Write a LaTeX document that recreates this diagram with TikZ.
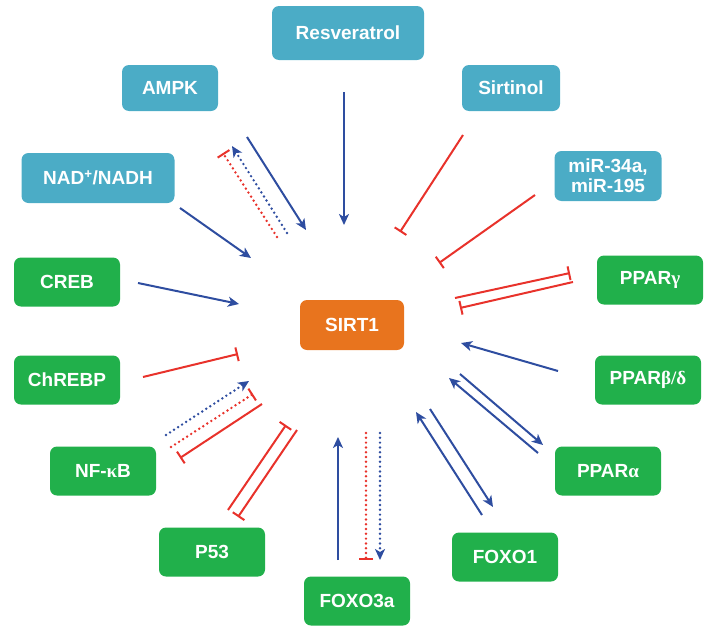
\documentclass[tikz,border=0pt]{standalone}
\usepackage{fontspec}
\setmainfont{Liberation Sans}
\newfontfamily\grk{Liberation Serif}
\usetikzlibrary{arrows.meta}

\definecolor{tealbox}{HTML}{4BACC6}
\definecolor{greenbox}{HTML}{21B04B}
\definecolor{orangebox}{HTML}{E8741E}
\definecolor{actblue}{HTML}{2E4DA0}
\definecolor{inhred}{HTML}{E8322B}

\tikzset{
  box/.style={rounded corners=7pt, minimum width=106pt, minimum height=49pt,
    text=white, font=\fontsize{19}{21}\selectfont\bfseries, align=center, inner sep=2pt},
  upbox/.style={box, fill=tealbox},
  dnbox/.style={box, fill=greenbox},
  act/.style={actblue, line width=2pt, -{Stealth[length=11pt,width=10pt,inset=3pt]}},
  inh/.style={inhred, line width=2pt, -{Bar[width=14pt,line width=2pt]}},
  dots/.style={line width=2.7pt, line cap=round, dash pattern=on 0pt off 4.8pt},
  dotact/.style={act, dots},
  dotinh/.style={inh, dots}
}

\begin{document}
\begin{tikzpicture}[x=1pt,y=-1pt]
	\useasboundingbox (0,0) rectangle (718,640);
	% regulators
	\node[upbox, minimum width=152pt, minimum height=54pt] (res) at (348,33) {Resveratrol};
	\node[upbox, minimum width=96pt, minimum height=46pt] (ampk) at (170,88) {AMPK};
	\node[upbox, minimum width=98pt, minimum height=46pt] (sirtinol) at (511,88) {Sirtinol};
	\node[upbox, minimum width=153pt, minimum height=50pt] (nad) at (98,178) {NAD\textsuperscript{+}/NADH};
	\node[upbox, minimum width=107pt, minimum height=50pt, font=\fontsize{19}{20}\selectfont\bfseries] (mir) at (608,176) {miR-34a,\\miR-195};
	% center
	\node[box, fill=orangebox, minimum width=104pt, minimum height=50pt] (sirt) at (352,325) {SIRT1};
	% targets
	\node[dnbox] (creb) at (67,282) {CREB};
	\node[dnbox] (chrebp) at (67,380) {ChREBP};
	\node[dnbox] (nfkb) at (103,471) {NF-{\grk κ}B};
	\node[dnbox] (p53) at (212,552) {P53};
	\node[dnbox] (foxo3) at (357,601) {FOXO3a};
	\node[dnbox] (foxo1) at (505,557) {FOXO1};
	\node[dnbox] (ppara) at (608,471) {PPAR{\grk α}};
	\node[dnbox] (pparbd) at (648,380) {PPAR{\grk β/δ}};
	\node[dnbox] (pparg) at (650,280) {PPAR{\grk γ}};
	% end points of the connectors
	\coordinate (res-a) at (344,92);   \coordinate (res-b) at (344,225);
	\coordinate (ampk-a) at (247,137); \coordinate (ampk-b) at (306,230);
	\coordinate (ampk-c) at (287,233); \coordinate (ampk-d) at (232,146);
	\coordinate (ampk-e) at (277,237); \coordinate (ampk-f) at (223,153);
	\coordinate (nad-a) at (180,208);  \coordinate (nad-b) at (251,258);
	\coordinate (sir-a) at (463,135);  \coordinate (sir-b) at (400,232);
	\coordinate (mir-a) at (535,195);  \coordinate (mir-b) at (439,263);
	\coordinate (creb-a) at (138,283); \coordinate (creb-b) at (239,304);
	\coordinate (chr-a) at (143,377);  \coordinate (chr-b) at (238,354);
	\coordinate (nfkb-a) at (166,435); \coordinate (nfkb-b) at (249,381);
	\coordinate (nfkb-c) at (171,447); \coordinate (nfkb-d) at (253,394);
	\coordinate (nfkb-e) at (262,404); \coordinate (nfkb-f) at (180,458);
	\coordinate (p53-a) at (228,510);  \coordinate (p53-b) at (286,425);
	\coordinate (p53-c) at (297,430);  \coordinate (p53-d) at (238,517);
	\coordinate (fx3-a) at (338,560);  \coordinate (fx3-b) at (338,437);
	\coordinate (fx3-c) at (366,433);  \coordinate (fx3-d) at (366,560);
	\coordinate (fx3-e) at (380,433);  \coordinate (fx3-f) at (380,560);
	\coordinate (fx1-a) at (482,515);  \coordinate (fx1-b) at (416,412);
	\coordinate (fx1-c) at (430,409);  \coordinate (fx1-d) at (493,507);
	\coordinate (pa-a) at (538,453);   \coordinate (pa-b) at (449,378);
	\coordinate (pa-c) at (460,374);   \coordinate (pa-d) at (543,445);
	\coordinate (pbd-a) at (558,371);  \coordinate (pbd-b) at (461,343);
	\coordinate (pg-a) at (455,298);   \coordinate (pg-b) at (570,273);
	\coordinate (pg-c) at (573,282);   \coordinate (pg-d) at (460,308);
	% connectors
	\draw[act] (res-a) -- (res-b);
	\draw[act] (ampk-a) -- (ampk-b);
	\draw[dotact] (ampk-c) -- (ampk-d);
	\draw[dotinh] (ampk-e) -- (ampk-f);
	\draw[act] (nad-a) -- (nad-b);
	\draw[inh] (sir-a) -- (sir-b);
	\draw[inh] (mir-a) -- (mir-b);
	\draw[act] (creb-a) -- (creb-b);
	\draw[inh] (chr-a) -- (chr-b);
	\draw[dotact] (nfkb-a) -- (nfkb-b);
	\draw[dotinh] (nfkb-c) -- (nfkb-d);
	\draw[inh] (nfkb-e) -- (nfkb-f);
	\draw[inh] (p53-a) -- (p53-b);
	\draw[inh] (p53-c) -- (p53-d);
	\draw[act] (fx3-a) -- (fx3-b);
	\draw[dotinh] (fx3-c) -- (fx3-d);
	\draw[dotact] (fx3-e) -- (fx3-f);
	\draw[act] (fx1-a) -- (fx1-b);
	\draw[act] (fx1-c) -- (fx1-d);
	\draw[act] (pa-a) -- (pa-b);
	\draw[act] (pa-c) -- (pa-d);
	\draw[act] (pbd-a) -- (pbd-b);
	\draw[inh] (pg-a) -- (pg-b);
	\draw[inh] (pg-c) -- (pg-d);
\end{tikzpicture}
\end{document}
